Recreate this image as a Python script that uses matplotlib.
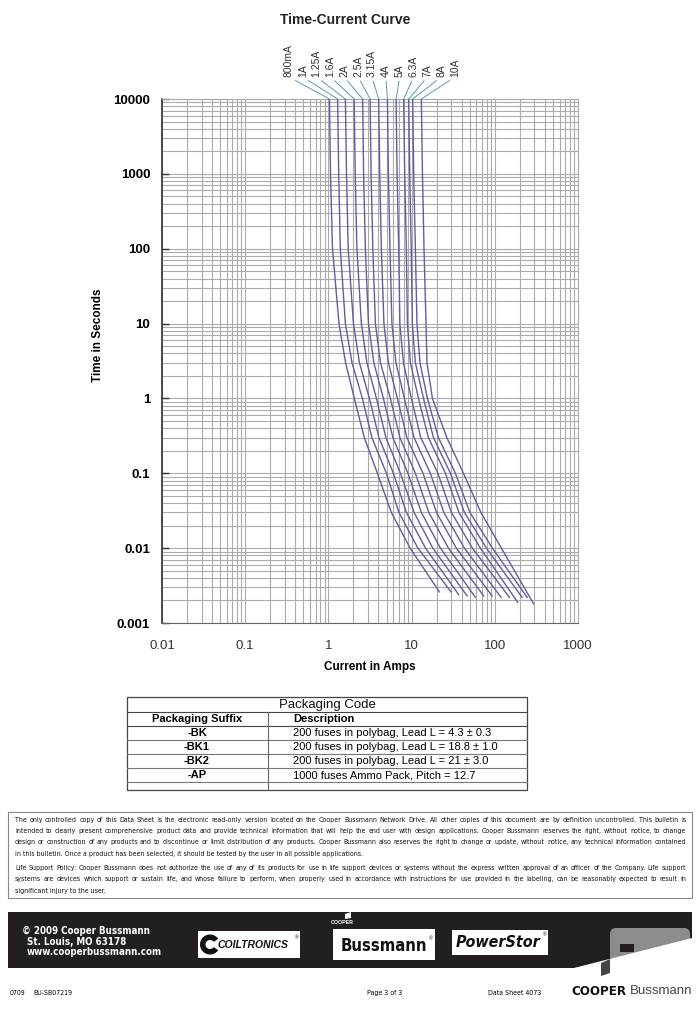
import numpy as np
import matplotlib
matplotlib.use('Agg')
import matplotlib.pyplot as plt
from matplotlib import font_manager
from matplotlib.patches import Rectangle, Polygon, FancyBboxPatch, Wedge
from matplotlib.ticker import LogLocator, NullFormatter

plt.rcParams['font.family'] = ['Liberation Sans', 'DejaVu Sans']

# fuse ratings (curve labels)
ratings = ['800mA', '1A', '1.25A', '1.6A', '2A', '2.5A', '3.15A',
           '4A', '5A', '6.3A', '7A', '8A', '10A']

# current (A) at these times (s)
times_s = [10000, 1000, 100, 10, 3, 1, 0.3, 0.1, 0.03, 0.01]
amps_10000 = [1.03, 1.29, 1.60, 2.04, 2.58, 3.17, 4.02, 5.12, 6.51, 8.04, 9.23, 10.3, 13.1]
amps_1000 = [1.06, 1.33, 1.65, 2.10, 2.65, 3.26, 4.14, 5.26, 6.69, 8.26, 9.49, 10.6, 13.5]
amps_100 = [1.12, 1.39, 1.73, 2.20, 2.78, 3.42, 4.33, 5.50, 7.00, 8.65, 9.90, 11.1, 14.1]
amps_10 = [1.34, 1.60, 2.00, 2.49, 3.03, 3.67, 4.65, 5.80, 7.23, 8.90, 10.2, 11.6, 14.9]
amps_3 = [1.61, 1.92, 2.36, 2.90, 3.52, 4.22, 5.26, 6.48, 7.97, 9.67, 11.1, 12.6, 15.3]
amps_1 = [2.05, 2.56, 3.11, 3.78, 4.58, 5.56, 6.75, 8.19, 9.94, 12.1, 13.9, 15.5, 17.8]
amps_0p3 = [2.70, 3.33, 4.05, 4.91, 5.96, 7.23, 8.78, 10.7, 12.9, 15.9, 18.3, 21.0, 26.5]
amps_0p1 = [3.88, 4.98, 6.04, 7.34, 9.03, 11.1, 13.7, 16.8, 20.7, 25.5, 29.3, 33.6, 42.0]
amps_0p03 = [5.70, 7.04, 8.66, 10.7, 13.1, 16.1, 19.9, 24.4, 30.1, 37.0, 43.1, 50.2, 68.0]
amps_0p01 = [9.59, 11.9, 14.7, 18.0, 22.2, 27.7, 34.5, 43.1, 53.8, 67.1, 79.3, 93.6, 120.0]
# last point of each curve
end_amps = [21.6, 29.8, 36.8, 46.5, 58.5, 73.5, 92.8, 119, 150, 188, 213, 245, 293]
end_secs = [0.0026, 0.0026, 0.0024, 0.0023, 0.0022, 0.0023, 0.0023,
            0.0022, 0.0022, 0.0019, 0.0022, 0.0022, 0.0018]

x_ticks = [0.01, 0.1, 1, 10, 100, 1000]
x_tick_labels = ['0.01', '0.1', '1', '10', '100', '1000']
y_ticks = [0.001, 0.01, 0.1, 1, 10, 100, 1000, 10000]
y_tick_labels = ['0.001', '0.01', '0.1', '1', '10', '100', '1000', '10000']

# packaging table
pack_suffix = ['-BK', '-BK1', '-BK2', '-AP']
pack_desc = ['200 fuses in polybag, Lead L = 4.3 \u00b1 0.3',
             '200 fuses in polybag, Lead L = 18.8 \u00b1 1.0',
             '200 fuses in polybag, Lead L = 21 \u00b1 3.0',
             '1000 fuses Ammo Pack, Pitch = 12.7']

disclaimer = [
    ("The only controlled copy of this Data Sheet is the electronic read-only version located on the Cooper Bussmann Network Drive. All other copies of this document are by definition uncontrolled. This bulletin is", True),
    ("intended to clearly present comprehensive product data and provide technical information that will help the end user with design applications. Cooper Bussmann reserves the right, without notice, to change", True),
    ("design or construction of any products and to discontinue or limit distribution of any products. Cooper Bussmann also reserves the right to change or update, without notice, any technical information contained", True),
    ("in this bulletin. Once a product has been selected, it should be tested by the user in all possible applications.", False),
    ("Life Support Policy: Cooper Bussmann does not authorize the use of any of its products for use in life support devices or systems without the express written approval of an officer of the Company. Life support", True),
    ("systems are devices which support or sustain life, and whose failure to perform, when properly used in accordance with instructions for use provided in the labeling, can be reasonably expected to result in", True),
    ("significant injury to the user.", False),
]
disclaimer_y = [820, 831, 842, 853.5, 867.5, 879, 890.5]

# pick a narrow face if one is installed
fonts = font_manager.fontManager.ttflist
names = {f.name for f in fonts}
narrow_kw = dict(family=['Liberation Sans', 'DejaVu Sans'])
if 'Liberation Sans Narrow' in names:
    narrow_kw = dict(family=['Liberation Sans Narrow', 'DejaVu Sans'])
elif any(f.name == 'DejaVu Sans' and str(f.stretch) in ('condensed', 'semi-condensed')
         for f in fonts):
    narrow_kw = dict(family=['DejaVu Sans'], stretch='condensed')

W, H = 700, 1013
fig = plt.figure(figsize=(W / 100, H / 100), dpi=100)
renderer = fig.canvas.get_renderer()

# page overlay in pixel coordinates (y down)
bg = fig.add_axes([0, 0, 1, 1])
bg.set_xlim(0, W)
bg.set_ylim(H, 0)
bg.axis('off')

bg.text(345, 20, 'Time-Current Curve', ha='center', va='center',
        fontsize=10, fontweight='bold', color='#222222')

# ---------------- chart ----------------
ax = fig.add_axes([162 / W, 1 - 623 / H, 416 / W, 524 / H])
ax.set_xscale('log')
ax.set_yscale('log')

rows = [amps_10000, amps_1000, amps_100, amps_10, amps_3, amps_1,
        amps_0p3, amps_0p1, amps_0p03, amps_0p01]
for k in range(len(ratings)):
    amps = [r[k] for r in rows] + [end_amps[k]]
    secs = times_s + [end_secs[k]]
    ax.plot(amps, secs, color='#5e5ea0', lw=1.0, zorder=3)

ax.set_xlim(0.01, 1000)
ax.set_ylim(0.001, 10000)
ax.set_xticks(x_ticks, x_tick_labels)
ax.set_yticks(y_ticks, y_tick_labels)
ax.xaxis.set_minor_locator(LogLocator(base=10, subs=np.arange(2, 10), numticks=30))
ax.yaxis.set_minor_locator(LogLocator(base=10, subs=np.arange(2, 10), numticks=30))
ax.xaxis.set_minor_formatter(NullFormatter())
ax.yaxis.set_minor_formatter(NullFormatter())
ax.grid(which='both', color='#ababab', lw=0.8, zorder=1)

ax.tick_params(axis='y', which='major', direction='in', length=5, width=1,
               color='#333333', pad=8.5, labelsize=9.5)
ax.tick_params(axis='x', which='major', length=0, pad=12, labelsize=9.5,
               labelcolor='#333333')
ax.tick_params(which='minor', length=0)
for lbl in ax.get_yticklabels():
    lbl.set_fontweight('bold')

ax.spines['left'].set_color('#333333')
ax.spines['left'].set_linewidth(1.2)
ax.spines['bottom'].set_color('#666666')
for s in ['top', 'right']:
    ax.spines[s].set_color('#ababab')
    ax.spines[s].set_linewidth(0.8)

ax.set_xlabel('Current in Amps', fontsize=8.5, fontweight='bold')
ax.set_ylabel('Time in Seconds', fontsize=8.5, fontweight='bold')
ax.xaxis.set_label_coords(0.5, (623 - 661) / 524)
ax.yaxis.set_label_coords((104 - 162) / 416, (623 - 335) / 524)

label_x = np.linspace(289, 455, len(ratings))
for name, lx, top in zip(ratings, label_x, amps_10000):
    ax.annotate(name, xy=(top, 10000), xycoords='data',
                xytext=(lx, H - 77), textcoords='figure pixels',
                rotation=90, ha='center', va='bottom', fontsize=7.5,
                color='#333333', annotation_clip=False,
                arrowprops=dict(arrowstyle='-', color='#5f97b3', lw=0.7,
                                relpos=(0.5, 0), shrinkA=1, shrinkB=0))

# ---------------- packaging table ----------------
tl, tr, tt, tb = 127, 527, 697, 790
div = 268
row_lines = [712, 726, 740, 754, 768, 782]
bg.add_patch(Rectangle((tl, tt), tr - tl, tb - tt, fill=False,
                       edgecolor='#444444', lw=0.9))
for i, yl in enumerate(row_lines):
    bg.plot([tl, tr], [yl, yl], color='#444444' if i < 2 else '#777777', lw=0.8)
bg.plot([div, div], [row_lines[0], tb], color='#666666', lw=0.8)
bg.text((tl + tr) / 2, 704.5, 'Packaging Code', ha='center', va='center',
        fontsize=9.5, color='#111111')
bg.text(197, 719, 'Packaging Suffix', ha='center', va='center',
        fontsize=8, fontweight='bold')
bg.text(293, 719, 'Description', ha='left', va='center',
        fontsize=8, fontweight='bold')
for i, (suf, desc) in enumerate(zip(pack_suffix, pack_desc)):
    yc = 733 + 14 * i
    bg.text(197, yc, suf, ha='center', va='center', fontsize=8, fontweight='bold')
    bg.text(293, yc, desc, ha='left', va='center', fontsize=8)

# ---------------- disclaimer ----------------
bg.add_patch(Rectangle((8, 812), 684, 86, fill=False, edgecolor='#888888', lw=0.8))

x_left, x_right = 15, 686
probe = bg.text(0, 0, disclaimer[0][0], fontsize=6, **narrow_kw)
natural = probe.get_window_extent(renderer).width
probe.remove()
small_fs = min(6.2, 6 * (x_right - x_left) / natural * 0.97)


def put_line(text, y, justify):
    if not justify:
        bg.text(x_left, y, text, ha='left', va='center', fontsize=small_fs,
                color='#111111', **narrow_kw)
        return
    words = text.split()
    objs = [bg.text(0, y, w, ha='left', va='center', fontsize=small_fs,
                    color='#111111', **narrow_kw) for w in words]
    widths = [o.get_window_extent(renderer).width for o in objs]
    gap = (x_right - x_left - sum(widths)) / (len(words) - 1)
    x = x_left
    for o, w in zip(objs, widths):
        o.set_x(x)
        x += w + gap


for (line, just), yl in zip(disclaimer, disclaimer_y):
    put_line(line, yl, just)

# ---------------- footer bar ----------------
bg.add_patch(Polygon([(8, 912), (692, 912), (692, 968), (8, 968)],
                     closed=True, facecolor='#231f20', edgecolor='none'))
bg.add_patch(FancyBboxPatch((610, 928), 80, 34, boxstyle='round,pad=0,rounding_size=6',
                            facecolor='#8c8c8c', edgecolor='none'))
bg.add_patch(Rectangle((620, 944), 14, 8, facecolor='#231f20', edgecolor='none'))
bg.add_patch(Polygon([(570, 969), (700, 936), (700, 1013), (570, 1013)],
                     closed=True, facecolor='white', edgecolor='none'))
bg.add_patch(Polygon([(601, 963), (610, 959), (610, 973), (601, 976)],
                     closed=True, facecolor='#444444', edgecolor='none'))

for txt, x, y in [('\u00a9 2009 Cooper Bussmann', 22, 931),
                  ('St. Louis, MO 63178', 27, 941.5),
                  ('www.cooperbussmann.com', 27, 952)]:
    bg.text(x, y, txt, ha='left', va='center', fontsize=7, fontweight='bold',
            color='white', **narrow_kw)

# logos
bg.add_patch(Rectangle((198, 931), 102, 27, facecolor='white', edgecolor='none'))
bg.add_patch(Wedge((210, 944.5), 10, 35, 325, width=5.5, facecolor='#111111'))
bg.text(217, 945, 'COILTRONICS', ha='left', va='center', fontsize=7.5,
        fontweight='bold', style='italic', color='#111111')
bg.text(297, 938, '\u00ae', ha='center', va='center', fontsize=3.5, color='#111111')

bg.add_patch(Rectangle((333, 929), 102, 31, facecolor='white', edgecolor='none'))
bg.text(384, 945.5, 'Bussmann', ha='center', va='center', fontsize=12,
        fontweight='bold', color='#111111', **narrow_kw)
bg.text(342, 922.5, 'COOPER', ha='center', va='center', fontsize=3.8,
        fontweight='bold', color='white')
bg.add_patch(Polygon([(345, 914), (351, 912), (351, 918), (345, 919)],
                     closed=True, facecolor='white', edgecolor='none'))
bg.text(431, 939, '\u00ae', ha='center', va='center', fontsize=3.5, color='#111111')

bg.add_patch(Rectangle((452, 930), 96, 25, facecolor='white', edgecolor='none'))
bg.text(498, 942.5, 'PowerStor', ha='center', va='center', fontsize=11.5,
        fontweight='bold', style='italic', color='#111111', **narrow_kw)
bg.text(545, 935, '\u00ae', ha='center', va='center', fontsize=3.5, color='#111111')

# bottom line
bg.text(10, 993, '0709', ha='left', va='center', fontsize=5, **narrow_kw)
bg.text(33, 993, 'BU-SB07219', ha='left', va='center', fontsize=5, **narrow_kw)
bg.text(385, 993, 'Page 3 of 3', ha='center', va='center', fontsize=5, **narrow_kw)
bg.text(488, 993, 'Data Sheet 4073', ha='left', va='center', fontsize=5, **narrow_kw)
t1 = bg.text(0, 991, 'COOPER', ha='left', va='center', fontsize=9.5,
             fontweight='bold', color='#111111', **narrow_kw)
t2 = bg.text(0, 991, 'Bussmann', ha='left', va='center', fontsize=9.5,
             color='#444444')
w1 = t1.get_window_extent(renderer).width
w2 = t2.get_window_extent(renderer).width
start = 692 - (w1 + 3 + w2)
t1.set_x(start)
t2.set_x(start + w1 + 3)

fig.savefig('out.png', dpi=100)
